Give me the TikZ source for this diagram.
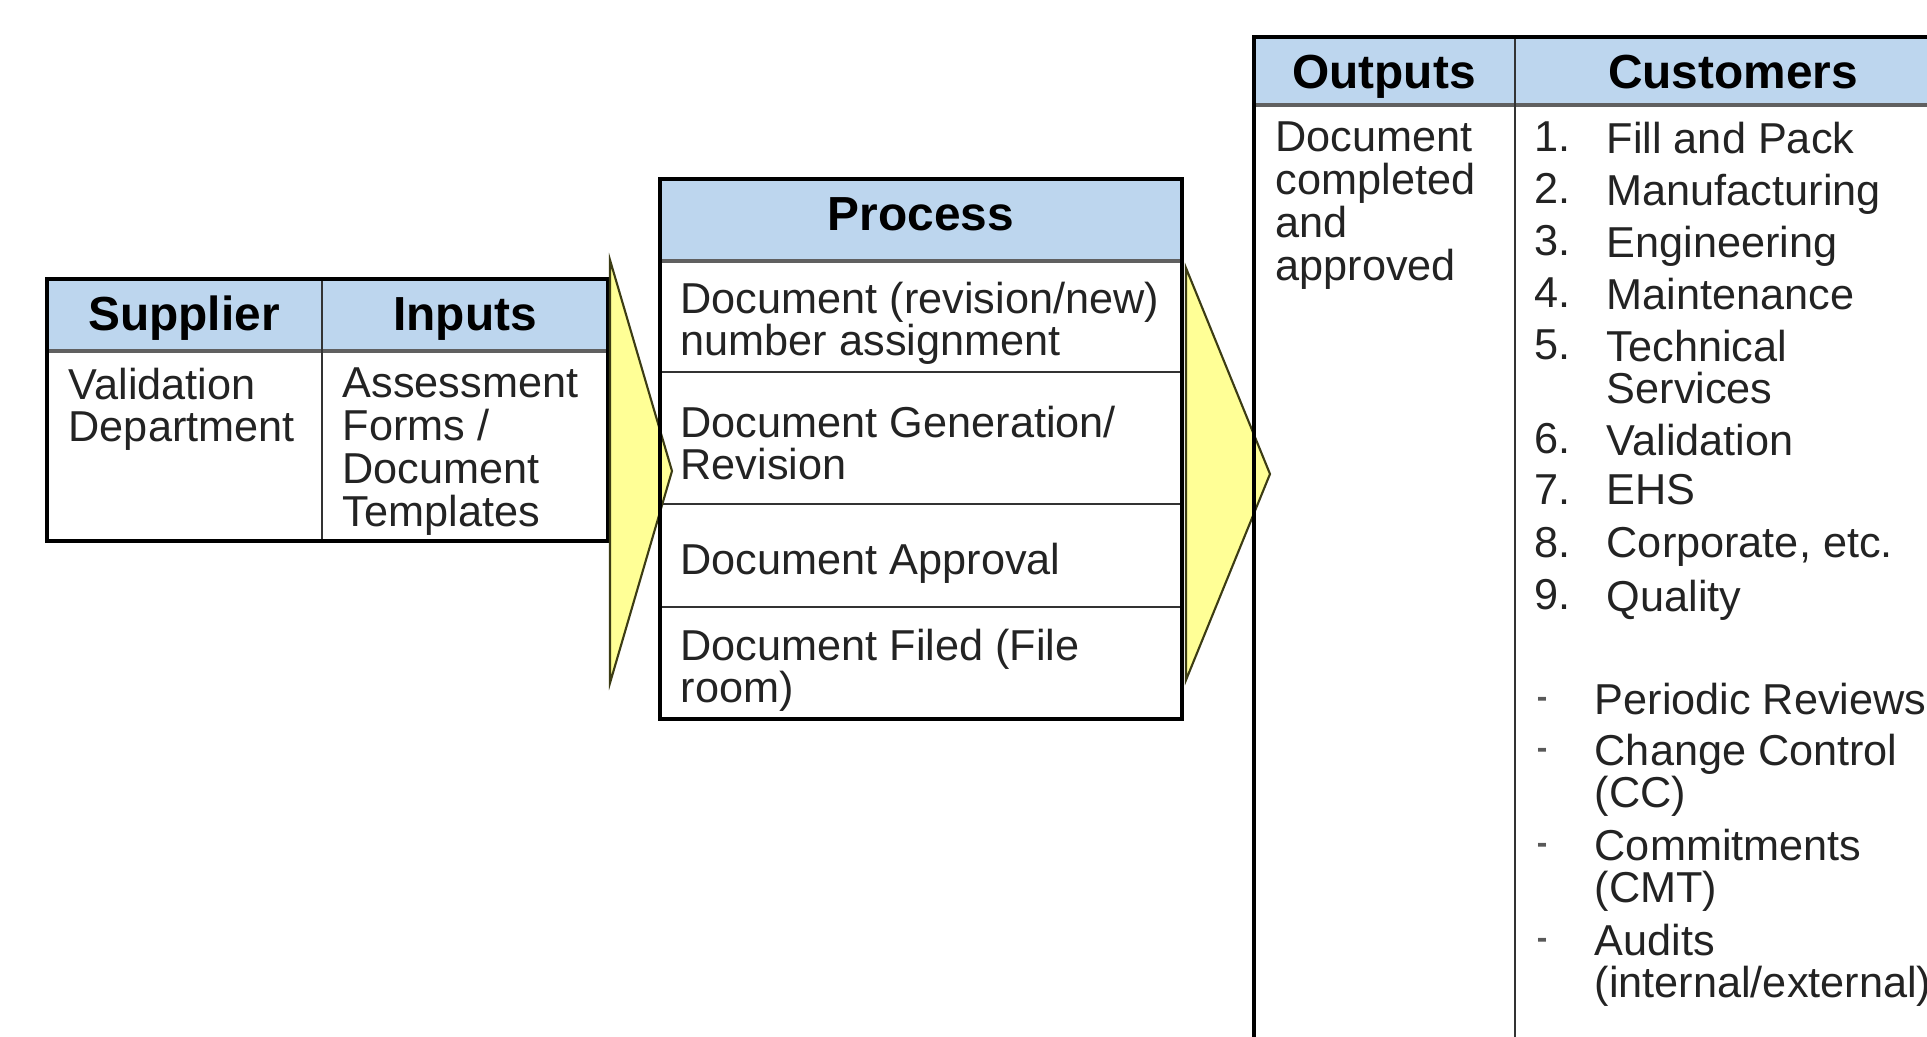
\documentclass[tikz,border=0pt]{standalone}
\usepackage{fontspec}
\setmainfont{Liberation Sans}
\definecolor{headblue}{RGB}{189,214,238}
\definecolor{chevfill}{RGB}{255,255,150}
\definecolor{chevline}{RGB}{60,60,20}
\definecolor{inkgray}{RGB}{35,35,35}
\begin{document}
\begin{tikzpicture}[
    x=0.01cm, y=-0.01cm,
    every node/.style={inner sep=0pt,text=inkgray,font=\fontsize{12.3}{12.2}\selectfont},
    head/.style={anchor=base,text=black,font=\fontsize{13.6}{15}\selectfont\bfseries},
    cell/.style={anchor=north west,align=left},
    bulletmark/.style={text=gray!70!black,font=\fontsize{9}{9}\selectfont\bfseries},
    frame/.style={line width=1pt,black},
    rule/.style={line width=0.6pt,black!80},
    headrule/.style={line width=1.1pt,gray!75!black},
    chevron/.style={fill=chevfill,draw=chevline,line width=0.6pt,line join=miter}]
    \useasboundingbox (0,0) rectangle (1927,1036);
    \clip (0,0) rectangle (1927,1036);
    % supplier and inputs
    \fill[headblue] (47,279) rectangle (608,351);
    \draw[headrule] (47,351) -- (608,351);
    \draw[rule] (322,279) -- (322,541);
    \draw[frame] (47,279) rectangle (608,541);
    % process
    \fill[headblue] (660,179) rectangle (1182,261);
    \draw[headrule] (660,261) -- (1182,261);
    \draw[rule] (660,372) -- (1182,372)
        (660,504) -- (1182,504)
        (660,607) -- (1182,607);
    \draw[chevron] (610,260) -- (672,471) -- (610,683) -- cycle;
    \draw[frame] (660,179) rectangle (1182,719);
    % outputs and customers
    \draw[chevron] (1186,268) -- (1270,474) -- (1186,680) -- cycle;
    \fill[headblue] (1254,37) rectangle (1960,105);
    \draw[headrule] (1254,105) -- (1960,105);
    \draw[rule] (1515,37) -- (1515,1060);
    \draw[frame] (1254,37) rectangle (1960,1060);
    % headers
    \node[head] (supplier) at (184,330) {Supplier};
    \node[head] (inputs) at (465,330) {Inputs};
    \node[head] (process) at (921,230) {Process};
    \node[head] (outputs) at (1384,88) {Outputs};
    \node[head] (customers) at (1733,88) {Customers};
    % cell texts
    \node[cell] (valdept) at (68,367) {Validation\\Department};
    \node[cell] (forms) at (342,367) {Assessment\\Forms /\\Document\\Templates};
    \node[cell] (numbering) at (680,281) {Document (revision/new)\\number assignment};
    \node[cell] (generation) at (680,405) {Document Generation/\\Revision};
    \node[cell] (approval) at (680,542) {Document Approval};
    \node[cell] (filed) at (680,628) {Document Filed (File\\room)};
    \node[cell] (completed) at (1275,121) {Document\\completed\\and\\approved};
    \foreach \n/\yy/\txt in {1/121/Fill and Pack, 2/173/Manufacturing,
        3/225/Engineering, 4/277/Maintenance, 5/329/{Technical\\Services},
        6/423/Validation, 7/474/EHS, 8/527/{Corporate, etc.}, 9/579/Quality}
    {
        \node[cell] (num\n) at (1534,\yy) {\n.};
        \node[cell] (cust\n) at (1606,\yy) {\txt};
    }
    \foreach \k/\yy/\txt in {1/682/Periodic Reviews, 2/733/{Change Control\\(CC)},
        3/828/{Commitments\\(CMT)}, 4/923/{Audits\\(internal/external)}}
    {
        \node[bulletmark] (mark\k) at (1542,\yy+20) {-};
        \node[cell] (rev\k) at (1594,\yy) {\txt};
    }
\end{tikzpicture}
\end{document}
